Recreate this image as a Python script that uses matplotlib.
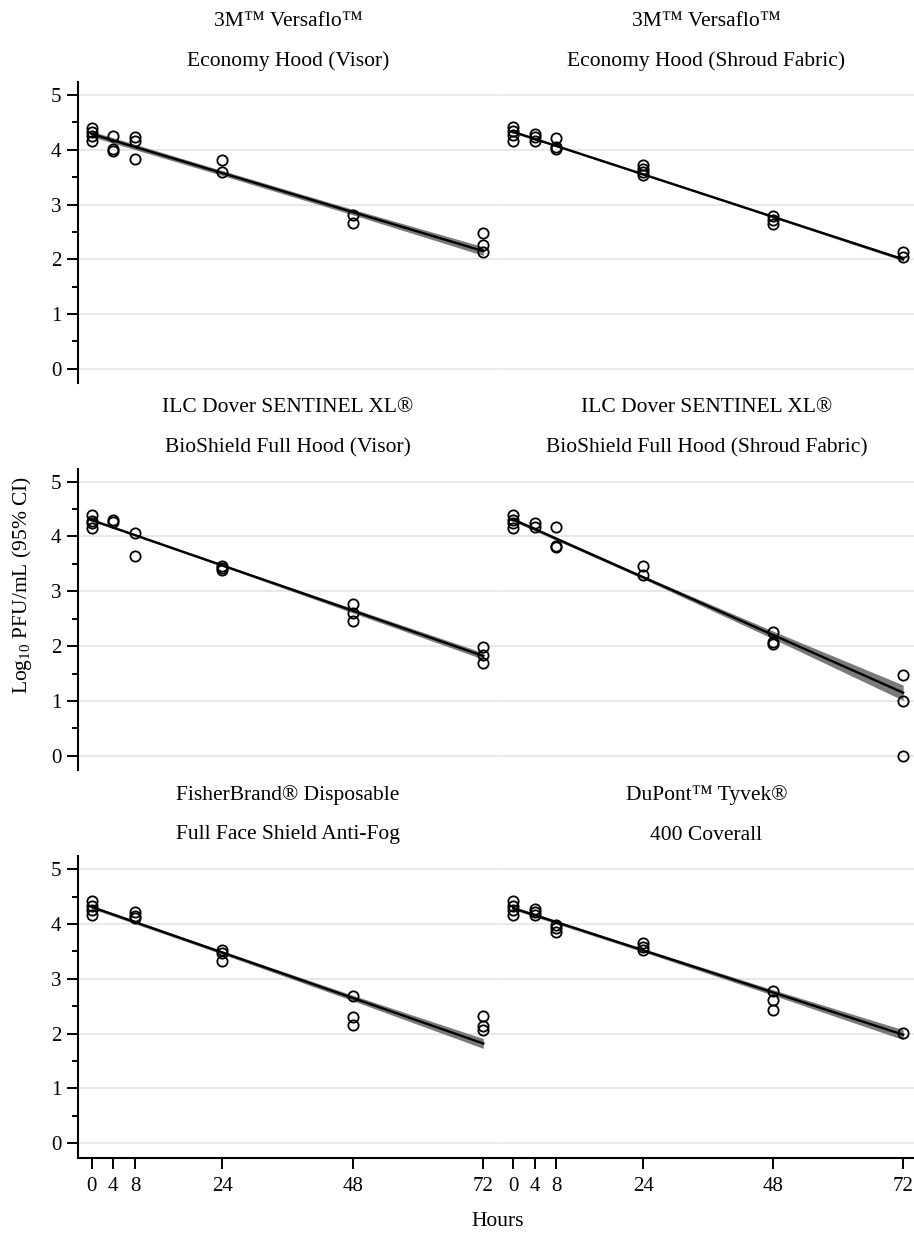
# ================================
# STEP 1: Import Libraries
# ================================
import numpy as np
import matplotlib
matplotlib.use("Agg")
import matplotlib.pyplot as plt
from matplotlib.ticker import MultipleLocator

plt.rcParams['font.family'] = ['Liberation Serif', 'DejaVu Serif']
plt.rcParams['mathtext.fontset'] = 'custom'
plt.rcParams['mathtext.rm'] = 'Liberation Serif'
plt.rcParams['mathtext.it'] = 'Liberation Serif:italic'

# ================================
# STEP 2: Data
# ================================
titles = [
    ("3M™ Versaflo™", "Economy Hood (Visor)"),
    ("3M™ Versaflo™", "Economy Hood (Shroud Fabric)"),
    ("ILC Dover SENTINEL XL®", "BioShield Full Hood (Visor)"),
    ("ILC Dover SENTINEL XL®", "BioShield Full Hood (Shroud Fabric)"),
    ("FisherBrand® Disposable", "Full Face Shield Anti-Fog"),
    ("DuPont™ Tyvek®", "400 Coverall"),
]

hours_p1 = [0, 0, 0, 0, 4, 4, 4, 8, 8, 8, 24, 24, 48, 48, 72, 72, 72]
log_p1 = [4.40, 4.32, 4.26, 4.16, 4.26, 4.01, 3.98, 4.23, 4.16, 3.84,
          3.81, 3.59, 2.81, 2.67, 2.48, 2.26, 2.14]

hours_p2 = [0, 0, 0, 0, 4, 4, 4, 8, 8, 8, 24, 24, 24, 24, 48, 48, 48, 72, 72]
log_p2 = [4.41, 4.34, 4.27, 4.16, 4.29, 4.24, 4.17, 4.22, 4.05, 4.01,
          3.72, 3.65, 3.60, 3.54, 2.79, 2.72, 2.65, 2.13, 2.05]

hours_p3 = [0, 0, 0, 0, 4, 4, 8, 8, 24, 24, 24, 48, 48, 48, 72, 72, 72]
log_p3 = [4.40, 4.29, 4.25, 4.16, 4.30, 4.26, 4.06, 3.64, 3.47, 3.42, 3.38,
          2.76, 2.61, 2.46, 1.99, 1.84, 1.70]

hours_p4 = [0, 0, 0, 0, 4, 4, 8, 8, 8, 24, 24, 48, 48, 48, 72, 72, 72]
log_p4 = [4.40, 4.30, 4.24, 4.15, 4.24, 4.18, 4.17, 3.83, 3.80, 3.46, 3.30,
          2.25, 2.08, 2.04, 1.47, 1.00, 0.00]

hours_p5 = [0, 0, 0, 0, 8, 8, 8, 24, 24, 24, 48, 48, 48, 72, 72, 72]
log_p5 = [4.41, 4.33, 4.26, 4.17, 4.21, 4.15, 4.10, 3.53, 3.47, 3.33,
          2.68, 2.30, 2.16, 2.33, 2.13, 2.07]

hours_p6 = [0, 0, 0, 0, 4, 4, 4, 8, 8, 8, 24, 24, 24, 48, 48, 48, 72]
log_p6 = [4.42, 4.33, 4.26, 4.17, 4.27, 4.21, 4.17, 3.98, 3.92, 3.86,
          3.65, 3.58, 3.53, 2.78, 2.62, 2.43, 2.01]

all_hours = [hours_p1, hours_p2, hours_p3, hours_p4, hours_p5, hours_p6]
all_logs = [log_p1, log_p2, log_p3, log_p4, log_p5, log_p6]

# fitted line (value at 0 h and at 72 h) and 95% CI half width
fit_at_0 = [4.29, 4.33, 4.30, 4.31, 4.31, 4.29]
fit_at_72 = [2.15, 2.00, 1.82, 1.15, 1.82, 1.98]
ci_hours = [0, 24, 48, 72]
ci_half = [
    [0.05, 0.045, 0.05, 0.08],
    [0.02, 0.015, 0.02, 0.03],
    [0.02, 0.02, 0.04, 0.06],
    [0.03, 0.03, 0.07, 0.14],
    [0.03, 0.03, 0.05, 0.09],
    [0.03, 0.03, 0.05, 0.09],
]

x_ticks = [0, 4, 8, 24, 48, 72]
y_ticks = [0, 1, 2, 3, 4, 5]

# ================================
# STEP 3: Layout
# ================================
W, H = 914, 1238
fig = plt.figure(figsize=(W / 100, H / 100), dpi=100)

col_px = [(78, 420, (-2.5, 74.7)), (499, 415, (-2.6, 74.0))]
row_px = [(82, 301), (468.5, 301.5), (856, 301.5)]

axes = []
for r, (top, h) in enumerate(row_px):
    for c, (left, w, xl) in enumerate(col_px):
        ax = fig.add_axes([left / W, 1 - (top + h) / H, w / W, h / H])
        ax.set_xlim(xl)
        ax.set_ylim(-0.26, 5.24)
        axes.append((ax, r, c))

# ================================
# STEP 4: Draw panels
# ================================
for i, (ax, r, c) in enumerate(axes):
    hrs = np.array(all_hours[i])
    lg = np.array(all_logs[i])

    for s in ax.spines.values():
        s.set_visible(False)
    ax.set_yticks(y_ticks)
    ax.yaxis.grid(True, color='#e6e6e6', lw=1.3)
    ax.set_axisbelow(True)

    # CI band + fitted line
    fx = np.array(ci_hours)
    fy = fit_at_0[i] + (fit_at_72[i] - fit_at_0[i]) * fx / 72.0
    hw = np.array(ci_half[i])
    ax.fill_between(fx, fy - hw, fy + hw, color='#7a7a7a', lw=0, zorder=2)
    ax.plot([0, 72], [fit_at_0[i], fit_at_72[i]], color='black', lw=1.7, zorder=3)

    ax.plot(hrs, lg, 'o', ms=7.4, mfc='none', mec='black', mew=1.3, zorder=4)

    # titles (two lines)
    ax.annotate(titles[i][1], xy=(0.5, 1), xycoords='axes fraction',
                xytext=(0, 21), textcoords='offset pixels',
                ha='center', va='center', fontsize=15.5)
    ax.annotate(titles[i][0], xy=(0.5, 1), xycoords='axes fraction',
                xytext=(0, 61), textcoords='offset pixels',
                ha='center', va='center', fontsize=15.5)

    if c == 0:
        ax.spines['left'].set_visible(True)
        ax.spines['left'].set_linewidth(1.5)
        ax.yaxis.set_minor_locator(MultipleLocator(0.5))
        ax.tick_params(axis='y', which='major', length=8, width=1.4,
                       labelsize=15, pad=4)
        ax.tick_params(axis='y', which='minor', length=4.5, width=1.4)
    else:
        ax.tick_params(axis='y', which='both', left=False, labelleft=False)

    if r == 2:
        ax.spines['bottom'].set_visible(True)
        ax.spines['bottom'].set_linewidth(1.5)
        ax.set_xticks(x_ticks)
        ax.tick_params(axis='x', length=8, width=1.4, labelsize=15, pad=6)
    else:
        ax.set_xticks([])

# ================================
# STEP 5: Axis labels
# ================================
fig.text(22 / W, 1 - 585 / H, r'Log$_{10}$ PFU/mL (95% CI)', rotation=90,
         ha='center', va='center', fontsize=15.5)
fig.text(498 / W, 1 - 1222 / H, 'Hours', ha='center', va='center', fontsize=15.5)

fig.savefig('out.png', dpi=100)
